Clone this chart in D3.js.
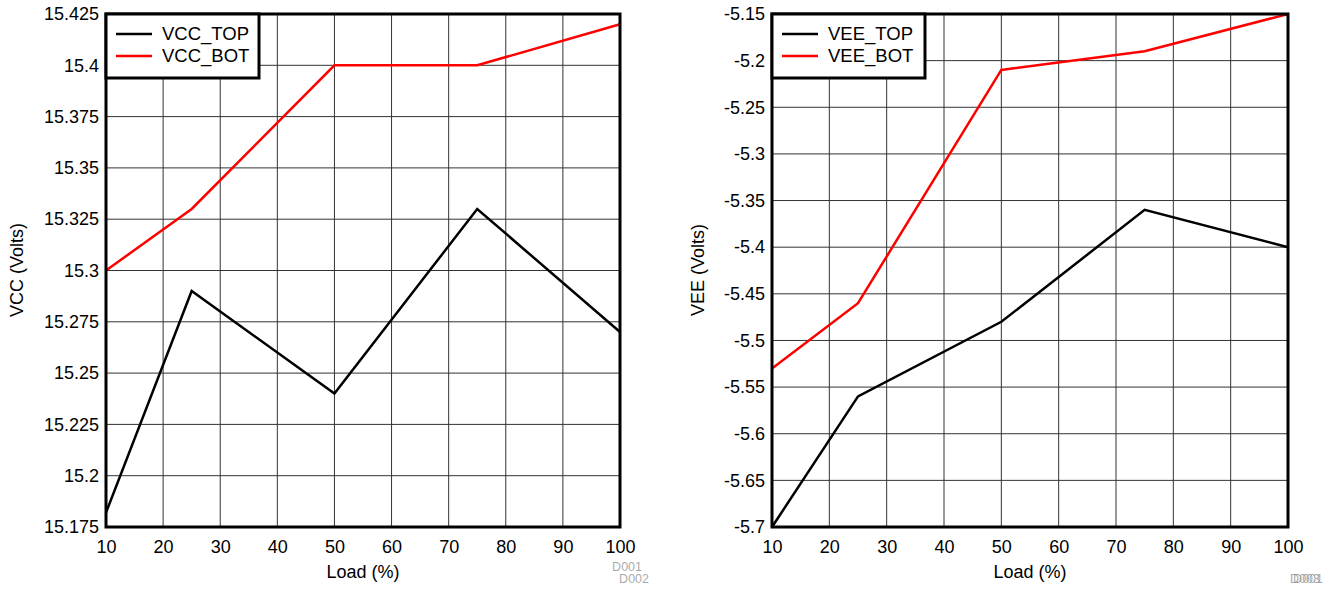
<!DOCTYPE html>
<html><head><meta charset="utf-8">
<script src="https://cdn.jsdelivr.net/npm/d3@7"></script>
<style>
body{margin:0;background:#fff;}
text{font-family:"Liberation Sans",Arial,sans-serif;}
</style></head>
<body><svg id="c" width="1333" height="590"></svg>
<script>
const loads = [10, 25, 50, 75, 100];
const vccTop = [15.182, 15.29, 15.24, 15.33, 15.27];
const vccBot = [15.30, 15.33, 15.40, 15.40, 15.42];
const veeTop = [-5.70, -5.56, -5.48, -5.36, -5.40];
const veeBot = [-5.53, -5.46, -5.21, -5.19, -5.15];
const xTicks = [10,20,30,40,50,60,70,80,90,100];
const vccTicks = [15.175,15.2,15.225,15.25,15.275,15.3,15.325,15.35,15.375,15.4,15.425];
const veeTicks = [-5.7,-5.65,-5.6,-5.55,-5.5,-5.45,-5.4,-5.35,-5.3,-5.25,-5.2,-5.15];

const svg = d3.select("#c");

function panel(opt){
  const g = svg.append("g");
  const x = d3.scaleLinear().domain([10,100]).range([opt.x0, opt.x1]);
  const y = d3.scaleLinear().domain(opt.ydom).range([527, 14]);
  // grid
  g.append("g").selectAll("line").data(xTicks).join("line")
    .attr("x1", d=>x(d)).attr("x2", d=>x(d)).attr("y1", 14).attr("y2", 527)
    .attr("stroke","#333").attr("stroke-width",1);
  g.append("g").selectAll("line").data(opt.yticks).join("line")
    .attr("x1", opt.x0).attr("x2", opt.x1).attr("y1", d=>y(d)).attr("y2", d=>y(d))
    .attr("stroke","#333").attr("stroke-width",1);
  // axes with d3
  const xa = g.append("g").attr("transform","translate(0,527)")
    .call(d3.axisBottom(x).tickValues(xTicks).tickSize(0).tickPadding(13).tickFormat(d3.format("d")));
  xa.select(".domain").remove();
  xa.selectAll("text").attr("font-size",18).attr("fill","#000").attr("font-family","Liberation Sans, Arial, sans-serif");
  const ya = g.append("g").attr("transform",`translate(${opt.x0},0)`)
    .call(d3.axisLeft(y).tickValues(opt.yticks).tickSize(0).tickPadding(7).tickFormat(d=>String(+d.toFixed(3)).replace("−","-")));
  ya.select(".domain").remove();
  ya.selectAll("text").attr("font-size",18).attr("fill","#000").attr("font-family","Liberation Sans, Arial, sans-serif");
  // lines
  const line = d3.line().x((d,i)=>x(loads[i])).y(d=>y(d));
  g.append("path").datum(opt.top).attr("d",line).attr("fill","none").attr("stroke","#000").attr("stroke-width",2.5);
  g.append("path").datum(opt.bot).attr("d",line).attr("fill","none").attr("stroke","#ff0000").attr("stroke-width",2.5);
  // frame
  g.append("rect").attr("x",opt.x0).attr("y",14).attr("width",opt.x1-opt.x0).attr("height",513)
    .attr("fill","none").attr("stroke","#000").attr("stroke-width",3);
  // legend
  const lg = g.append("g");
  lg.append("rect").attr("x",opt.x0).attr("y",14).attr("width",153).attr("height",64)
    .attr("fill","#fff").attr("stroke","#000").attr("stroke-width",3);
  const items = [[opt.names[0],"#000"],[opt.names[1],"#ff0000"]];
  items.forEach((it,i)=>{
    const yy = 34 + i*22;
    lg.append("line").attr("x1",opt.x0+10).attr("x2",opt.x0+46).attr("y1",yy).attr("y2",yy)
      .attr("stroke",it[1]).attr("stroke-width",2.5);
    lg.append("text").attr("x",opt.x0+56).attr("y",yy).attr("dy","0.35em")
      .attr("font-size",18.5).attr("fill","#000").text(it[0]);
  });
  // titles
  g.append("text").attr("x",(opt.x0+opt.x1)/2).attr("y",578).attr("text-anchor","middle")
    .attr("font-size",18).text("Load (%)");
  g.append("text").attr("transform",`translate(${opt.ytx},270) rotate(-90)`).attr("text-anchor","middle")
    .attr("dy","0.35em").attr("font-size",18).text(opt.ytitle);
  return {x,y};
}

panel({x0:106,x1:620,ydom:[15.175,15.425],yticks:vccTicks,top:vccTop,bot:vccBot,
  names:["VCC_TOP","VCC_BOT"],ytitle:"VCC (Volts)",ytx:17});
panel({x0:772,x1:1288,ydom:[-5.7,-5.15],yticks:veeTicks,top:veeTop,bot:veeBot,
  names:["VEE_TOP","VEE_BOT"],ytitle:"VEE (Volts)",ytx:698});

// figure ids
const ids = [["D001",642,571],["D002",649,583],["D001",1323,583],["D003",1320,583]];
svg.append("g").selectAll("text").data(ids).join("text")
  .attr("x",d=>d[1]).attr("y",d=>d[2]).attr("text-anchor","end")
  .attr("font-size",12.5).attr("fill","#999").attr("fill-opacity",0.85).text(d=>d[0]);
</script></body></html>
